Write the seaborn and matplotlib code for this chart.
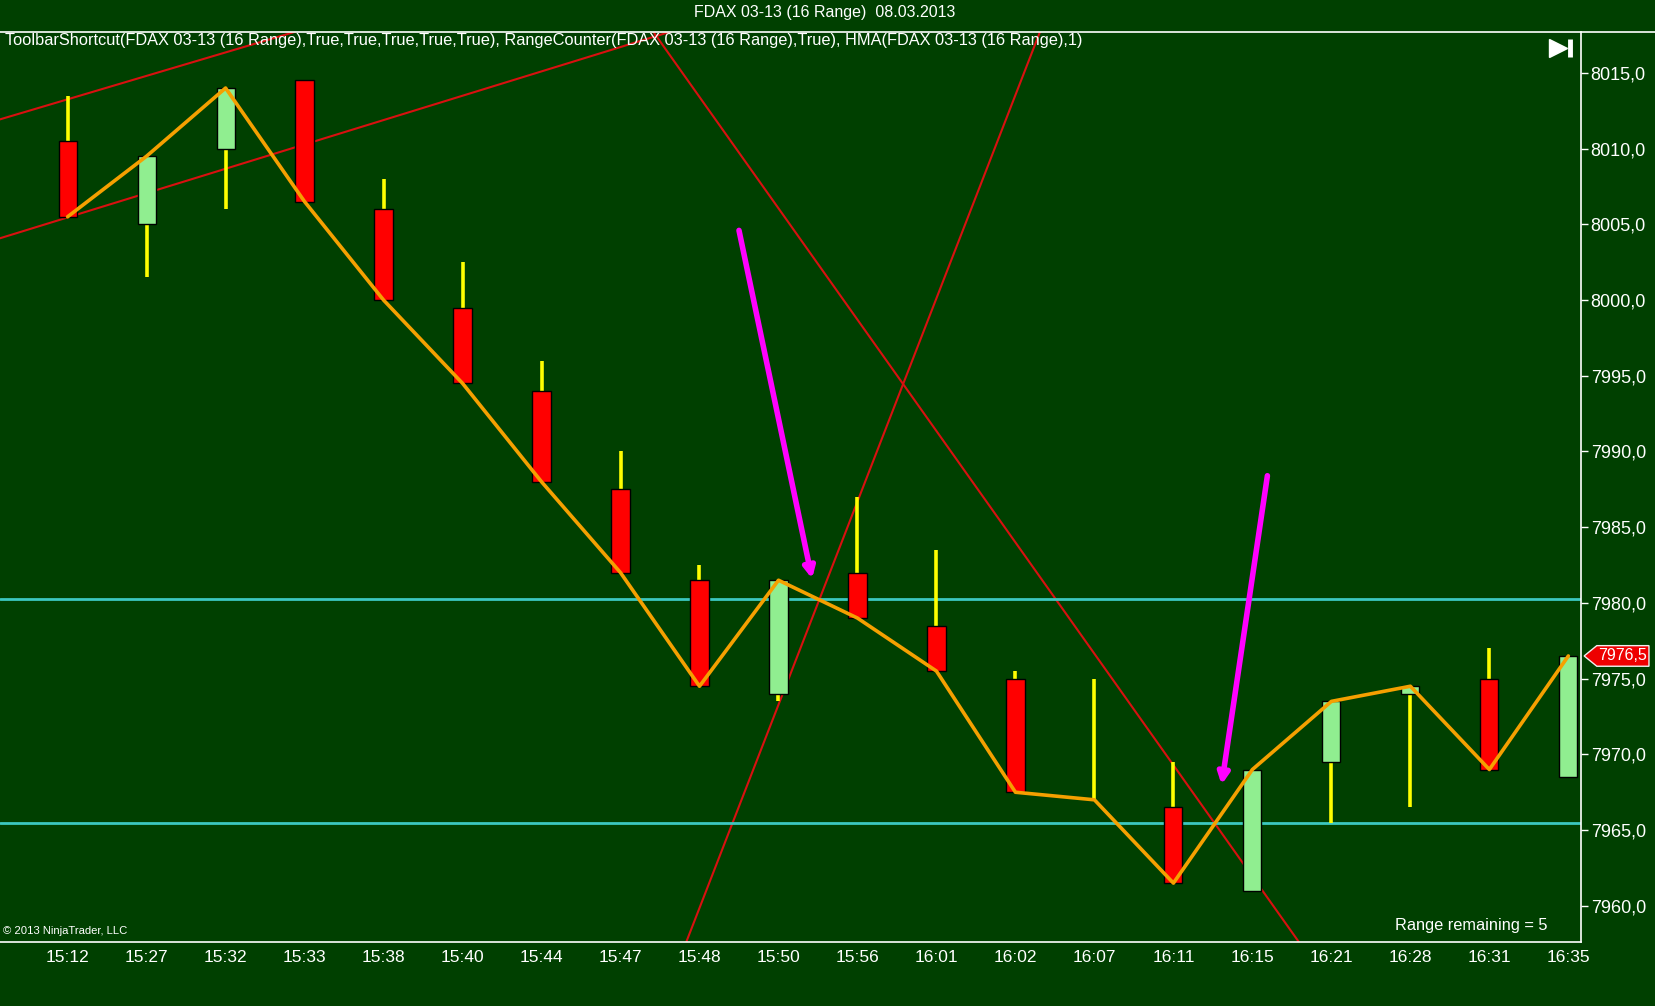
import numpy as np
import matplotlib
matplotlib.use("Agg")
import matplotlib.pyplot as plt
import matplotlib.ticker as mticker
from matplotlib.lines import Line2D
from matplotlib.patches import Polygon
import seaborn as sns

# range bars, FDAX 03-13 (16 Range), 08.03.2013
times = ['15:12', '15:27', '15:32', '15:33', '15:38', '15:40', '15:44', '15:47', '15:48', '15:50',
         '15:56', '16:01', '16:02', '16:07', '16:11', '16:15', '16:21', '16:28', '16:31', '16:35']
opens = [8010.5, 8005.0, 8010.0, 8014.5, 8006.0, 7999.5, 7994.0, 7987.5, 7981.5, 7974.0,
         7982.0, 7978.5, 7975.0, 7967.0, 7966.5, 7961.0, 7969.5, 7974.0, 7975.0, 7968.5]
highs = [8013.5, 8009.5, 8014.0, 8014.5, 8008.0, 8002.5, 7996.0, 7990.0, 7982.5, 7981.5,
         7987.0, 7983.5, 7975.5, 7975.0, 7969.5, 7969.0, 7973.5, 7974.5, 7977.0, 7976.5]
lows = [8005.5, 8001.5, 8006.0, 8006.5, 8000.0, 7994.5, 7988.0, 7982.0, 7974.5, 7973.5,
        7979.0, 7975.5, 7967.5, 7967.0, 7961.5, 7961.0, 7965.5, 7966.5, 7969.0, 7968.5]
closes = [8005.5, 8009.5, 8014.0, 8006.5, 8000.0, 7994.5, 7988.0, 7982.0, 7974.5, 7981.5,
          7979.0, 7975.5, 7967.5, 7967.0, 7961.5, 7969.0, 7973.5, 7974.5, 7969.0, 7976.5]

# hand drawn objects: trend lines as two anchor points (bar index, price)
trend_lines = [((-0.856, 8011.93), (1.676, 8015.85)),
               ((-0.856, 8004.08), (4.209, 8012.22)),
               ((7.43, 8017.6), (15.59, 7957.6)),
               ((7.834, 7957.63), (12.31, 8017.7))]
levels = [7980.25, 7965.5]
arrows = [((8.50, 8004.6), (9.425, 7981.6)),
          ((15.19, 7988.4), (14.61, 7968.0))]
last_price = 7976.5

BG = '#004000'
sns.set_style('dark', {'axes.facecolor': BG, 'figure.facecolor': BG})
plt.rcParams['font.family'] = ['Liberation Sans', 'DejaVu Sans']

fig = plt.figure(figsize=(16.56, 10.06), dpi=100)
ax = fig.add_axes([0, 0.0639, 0.9547, 0.9046])
ax.set_facecolor(BG)

idx = np.arange(len(times))
o = np.array(opens)
c = np.array(closes)
up = c >= o

# trend lines and levels under the bars
for p1, p2 in trend_lines:
    ax.axline(p1, p2, color='#d81010', lw=1.5, zorder=1)
for lv in levels:
    ax.axhline(lv, color='#3cc8c0', lw=2, zorder=1)

# candles
ax.vlines(idx, lows, highs, color='#ffff00', lw=2.6, zorder=2)
body_h = np.abs(c - o)
body_b = np.minimum(o, c)
colors = np.where(up, '#90ee90', '#ff0000')
mask = body_h > 0
ax.bar(idx[mask], body_h[mask], bottom=body_b[mask], width=0.23,
       color=colors[mask], edgecolor='black', linewidth=1, zorder=3)

# HMA(1) = close
sns.lineplot(x=idx, y=closes, color='#f5a000', lw=2.6, ax=ax, zorder=4)

for start, end in arrows:
    ax.annotate('', xy=end, xytext=start,
                arrowprops=dict(arrowstyle='-|>', color='#ff00ff', lw=4,
                                mutation_scale=16, shrinkA=0, shrinkB=0),
                zorder=5)

ax.set_xlim(-0.856, 19.16)
ax.set_ylim(7957.63, 8017.72)

ax.set_xticks(idx)
ax.set_xticklabels(times)
ax.yaxis.tick_right()
ax.set_yticks(np.arange(7960, 8016, 5))
ax.yaxis.set_major_formatter(mticker.FuncFormatter(lambda v, p: f'{v:.1f}'.replace('.', ',')))
ax.tick_params(axis='both', colors='white', labelcolor='white', labelsize=13,
               length=5, width=1, direction='out')
ax.tick_params(axis='x', pad=1, labelsize=12.5)
ax.tick_params(axis='y', pad=2)
ax.grid(False)
for s in ['left', 'top']:
    ax.spines[s].set_visible(False)
for s in ['right', 'bottom']:
    ax.spines[s].set_visible(True)
    ax.spines[s].set_color('white')
    ax.spines[s].set_linewidth(1.2)

# frame line under the title
fig.add_artist(Line2D([0, 1], [0.9685, 0.9685], transform=fig.transFigure, color='white', lw=1.2))

fig.text(0.498, 0.9874, 'FDAX 03-13 (16 Range)  08.03.2013', color='white', fontsize=11.5,
         ha='center', va='center')
ax.text(0.003, 0.9898,
        'ToolbarShortcut(FDAX 03-13 (16 Range),True,True,True,True,True), '
        'RangeCounter(FDAX 03-13 (16 Range),True), HMA(FDAX 03-13 (16 Range),1)',
        transform=ax.transAxes, color='white', fontsize=11.8, ha='left', va='center')
ax.text(0.979, 0.0173, 'Range remaining = 5', transform=ax.transAxes, color='white',
        fontsize=11.8, ha='right', va='center')
ax.text(0.002, 0.006, '\u00a9 2013 NinjaTrader, LLC', transform=ax.transAxes, color='white',
        fontsize=8.1, ha='left', va='bottom')

# toolbar icon
ax.plot([0.9855], [0.982], marker='>', ms=13, color='white', transform=ax.transAxes,
        clip_on=False, zorder=6)
ax.plot([0.9928, 0.9928], [0.972, 0.992], color='white', lw=3.5, transform=ax.transAxes,
        solid_capstyle='butt', clip_on=False, zorder=6)

# last price tag
trans = matplotlib.transforms.blended_transform_factory(ax.transAxes, ax.transData)
h = 0.68
tag = Polygon([[1.002, last_price], [1.010, last_price + h], [1.043, last_price + h],
               [1.043, last_price - h], [1.010, last_price - h]], closed=True,
              transform=trans, facecolor='#ee0000', edgecolor='#f0f0f0', lw=1, clip_on=False,
              zorder=6)
ax.add_patch(tag)
ax.text(1.0265, last_price, f'{last_price:.1f}'.replace('.', ','), transform=trans,
        color='white', fontsize=11.5, ha='center', va='center', zorder=7)

fig.savefig('out.png', dpi=100, facecolor=BG)
